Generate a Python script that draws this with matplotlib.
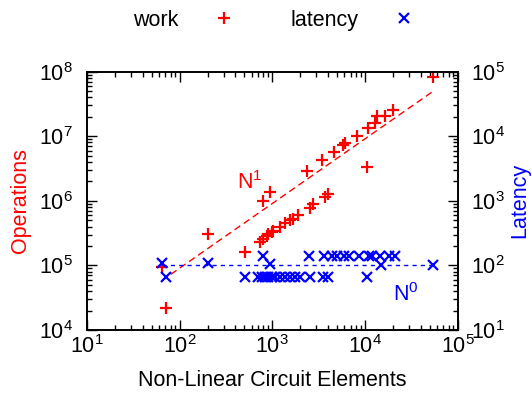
import matplotlib
matplotlib.use('Agg')
import matplotlib.pyplot as plt
from matplotlib.lines import Line2D

plt.rcParams['font.family'] = ['Liberation Sans', 'DejaVu Sans']
plt.rcParams['mathtext.fontset'] = 'custom'
plt.rcParams['mathtext.rm'] = 'Liberation Sans'
plt.rcParams['mathtext.it'] = 'Liberation Sans'
plt.rcParams['font.size'] = 15.5

# work (operations) points
work_n = [64, 72, 200, 508, 738, 800, 873, 907, 988, 1028, 1213, 1374, 1556,
          1690, 1915, 2560, 2780, 3715, 4040, 802, 946, 2350, 3420, 4650, 5860,
          6100, 8170, 10600, 10900, 12900, 13600, 16500, 20300, 55000]
work_ops = [9.5e4, 2.2e4, 3.05e5, 1.6e5, 2.3e5, 2.56e5, 2.87e5, 3.05e5, 3.3e5,
            3.43e5, 3.87e5, 4.6e5, 5.07e5, 5.3e5, 5.98e5, 7.85e5, 8.8e5, 1.16e6,
            1.26e6, 9.9e5, 1.36e6, 2.87e6, 4.35e6, 5.7e6, 7.2e6, 7.85e6, 9.9e6,
            3.3e6, 1.36e7, 1.6e7, 2.09e7, 2.09e7, 2.56e7, 8.3e7]

# latency points
lat_n = [800, 2480, 3600, 4420, 5010, 5920, 6700, 8590, 11000, 12000, 14700,
         18100, 21300,
         64, 200, 950, 15000, 55000,
         72, 508, 708, 770, 836, 907, 988, 1072, 1213, 1374, 1556, 1762, 1995,
         2560, 3560, 4040, 10470]
lat_v = [142, 142, 142, 142, 142, 142, 142, 142, 142, 142, 142, 142, 142,
         109, 109, 105, 100, 100,
         65, 65, 65, 65, 65, 65, 65, 65, 65, 65, 65, 65, 65,
         65, 65, 65, 65]

# fitted trends
fit_n = [64, 55000]
fit_ops = [5.8e4, 5.0e7]
flat_n = [64, 55000]
flat_lat = [100, 100]

red = '#ff0000'
blue = '#0000ff'

fig = plt.figure(figsize=(5.32, 4.01), dpi=100)
ax = fig.add_axes([0.1635, 0.177, 0.6965, 0.6445])
ax2 = ax.twinx()

ax.plot(fit_n, fit_ops, color=red, lw=1, dashes=(5, 3))
ax.plot(work_n, work_ops, ls='none', marker='+', ms=8, mew=1.6, color=red)
ax2.plot(flat_n, flat_lat, color=blue, lw=1, dashes=(3, 3))
ax2.plot(lat_n, lat_v, ls='none', marker='x', ms=7, mew=1.6, color=blue)

ax.set_xscale('log')
ax.set_yscale('log')
ax2.set_yscale('log')
ax.set_xlim(10, 1e5)
ax.set_ylim(1e4, 1e8)
ax2.set_ylim(10, 1e5)

ax.tick_params(axis='x', which='both', direction='in', top=True, bottom=True, pad=4)
ax.tick_params(axis='y', which='both', direction='in', left=True, right=False, pad=10)
ax2.tick_params(axis='y', which='both', direction='in', right=True, left=False, pad=10)
for a in (ax, ax2):
    a.tick_params(which='major', length=7, width=1)
    a.tick_params(which='minor', length=3.5, width=1)
    for s in a.spines.values():
        s.set_linewidth(1.2)

ax.text(417, 1.5e6, r'N$^1$', color=red, ha='left', va='baseline')
ax2.text(20200, 28.5, r'N$^0$', color=blue, ha='left', va='baseline')

ax.set_xlabel('Non-Linear Circuit Elements')
ax.xaxis.set_label_coords(0.5, -0.155)
ax.set_ylabel('Operations', color=red)
ax.yaxis.set_label_coords(-0.15, 0.5)
ax2.set_ylabel('Latency', color=blue)
ax2.yaxis.set_label_coords(1.14, 0.5)

handles = [Line2D([], [], ls='none', marker='+', ms=8, mew=1.6, color=red),
           Line2D([], [], ls='none', marker='x', ms=7, mew=1.6, color=blue)]
fig.legend(handles, ['work', 'latency'], loc='center', bbox_to_anchor=(0.525, 0.95),
           ncol=2, frameon=False, markerfirst=False, handlelength=2,
           handletextpad=1.1, columnspacing=2.1)

fig.savefig('out.png', dpi=100)
